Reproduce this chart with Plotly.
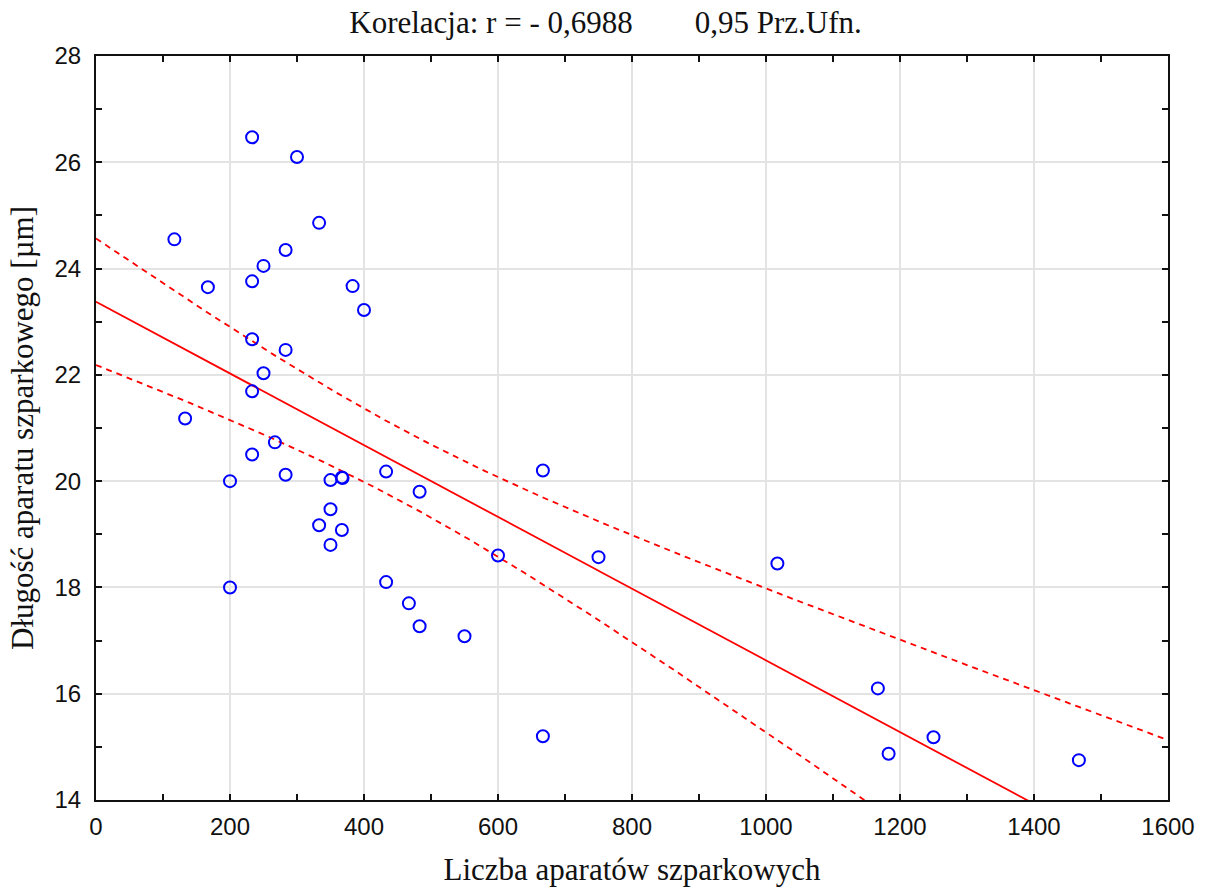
import numpy as np
import plotly.graph_objects as go

# Data
liczba = [117, 133, 167, 200, 200, 233, 233, 233, 233, 233, 250, 250, 267, 283, 283, 283,
          300, 333, 333, 350, 350, 350, 367, 368, 367, 383, 400, 433, 433, 467, 483, 483,
          550, 600, 667, 667, 750, 1017, 1167, 1183, 1250, 1467]
dlugosc = [24.55, 21.18, 23.65, 20.0, 18.0, 26.47, 23.76, 22.67, 21.69, 20.5, 24.05, 22.03,
           20.73, 24.35, 22.47, 20.12, 26.1, 24.86, 19.17, 20.02, 19.47, 18.8, 20.07, 20.06,
           19.08, 23.67, 23.22, 20.18, 18.1, 17.7, 19.8, 17.27, 17.08, 18.6, 20.2, 15.2,
           18.57, 18.45, 16.1, 14.87, 15.18, 14.75]

x_ticks = [0, 200, 400, 600, 800, 1000, 1200, 1400, 1600]
y_ticks = [14, 16, 18, 20, 22, 24, 26, 28]
t_crit = 2.021  # t(0.975, df=40)

x = np.array(liczba, float)
y = np.array(dlugosc, float)
n = len(x)
b1, b0 = np.polyfit(x, y, 1)
resid = y - (b0 + b1 * x)
s = np.sqrt(np.sum(resid ** 2) / (n - 2))
sxx = np.sum((x - x.mean()) ** 2)
xs = np.linspace(0, 1600, 401)
yh = b0 + b1 * xs
hw = t_crit * s * np.sqrt(1.0 / n + (xs - x.mean()) ** 2 / sxx)

fig = go.Figure()
fig.add_trace(go.Scatter(x=xs, y=yh + hw, mode="lines",
                         line=dict(color="#ff0000", width=1.8, dash="6px,5px"), hoverinfo="skip"))
fig.add_trace(go.Scatter(x=xs, y=yh - hw, mode="lines",
                         line=dict(color="#ff0000", width=1.8, dash="6px,5px"), hoverinfo="skip"))
fig.add_trace(go.Scatter(x=xs, y=yh, mode="lines",
                         line=dict(color="#ff0000", width=1.8), hoverinfo="skip"))
fig.add_trace(go.Scatter(x=liczba, y=dlugosc, mode="markers",
                         marker=dict(symbol="circle-open", size=12, color="#0000ff",
                                     line=dict(width=2, color="#0000ff")),
                         cliponaxis=False))

sp = "&nbsp;" * 8
fig.update_layout(
    width=1211, height=890,
    margin=dict(l=96, r=43, t=56, b=90),
    paper_bgcolor="white", plot_bgcolor="white",
    showlegend=False,
    title=dict(text="Korelacja: r = - 0,6988" + sp + "0,95 Prz.Ufn.",
               x=0.5, xanchor="center", y=0.975, yanchor="middle",
               font=dict(family="Liberation Serif", size=31, color="#111")),
    font=dict(family="Liberation Sans", color="#111"),
)
fig.update_xaxes(
    range=[0, 1600], tickvals=x_ticks, ticktext=[str(v) for v in x_ticks],
    automargin=False,
    showgrid=True, gridcolor="#e3e3e3", gridwidth=1.5,
    showline=True, linecolor="#111", linewidth=2, mirror="ticks",
    ticks="inside", ticklen=6, tickwidth=1.5, tickcolor="#111",
    minor=dict(dtick=100, tick0=0, ticks="inside", ticklen=6, tickwidth=1.5, tickcolor="#111", showgrid=False),
    tickfont=dict(family="Liberation Sans", size=24, color="#111"),
    ticklabelstandoff=4,
    zeroline=False,
    title=dict(text="Liczba aparatów szparkowych", standoff=20,
               font=dict(family="Liberation Serif", size=31, color="#111")),
)
fig.update_yaxes(
    range=[14, 28], tickvals=y_ticks, ticktext=[str(v) for v in y_ticks],
    automargin=False,
    showgrid=True, gridcolor="#e3e3e3", gridwidth=1.5,
    showline=True, linecolor="#111", linewidth=2, mirror="ticks",
    ticks="inside", ticklen=6, tickwidth=1.5, tickcolor="#111",
    minor=dict(dtick=1, tick0=14, ticks="inside", ticklen=6, tickwidth=1.5, tickcolor="#111", showgrid=False),
    tickfont=dict(family="Liberation Sans", size=24, color="#111"),
    ticklabelstandoff=8,
    zeroline=False,
    title=dict(text="Długość aparatu szparkowego [µm]", standoff=12,
               font=dict(family="Liberation Serif", size=31, color="#111")),
)
fig.write_html("out.html")
